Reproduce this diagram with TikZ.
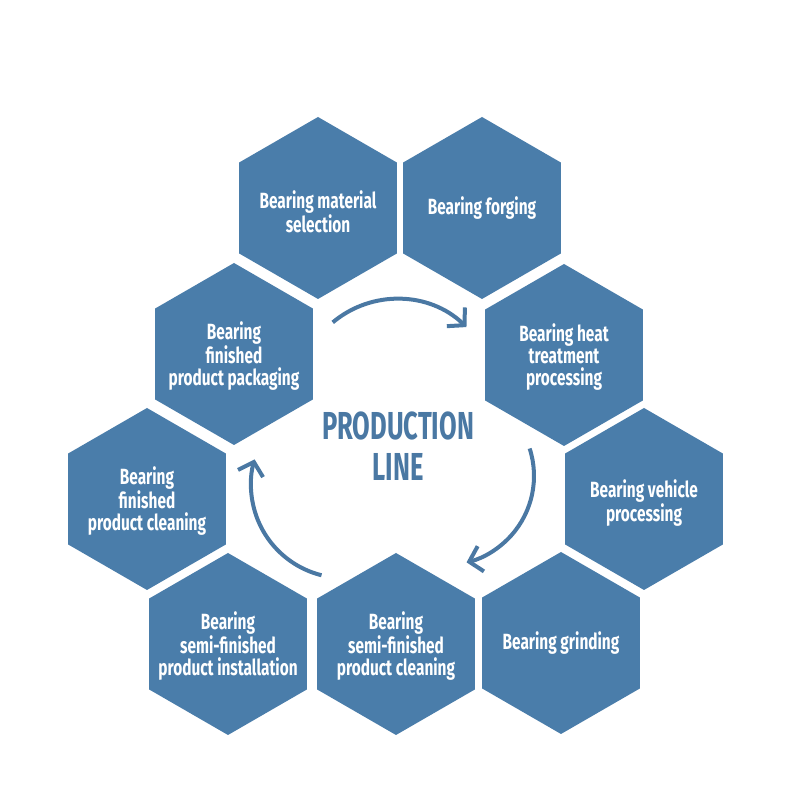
\documentclass[tikz,border=0pt]{standalone}
\usepackage{fontspec}
\setmainfont{Fira Sans}
\newfontfamily\hexfont[FakeStretch=0.70]{Fira Sans}
\newfontfamily\titlefont[FakeStretch=0.655]{Fira Sans}
\usetikzlibrary{shapes.geometric,arrows.meta}
\definecolor{hexblue}{HTML}{4A7DAA}
\definecolor{titleblue}{HTML}{4A78A3}
\begin{document}
\begin{tikzpicture}[x=1pt,y=1pt,
  hexbox/.style={regular polygon, regular polygon sides=6, shape border rotate=30,
    minimum size=182pt, inner sep=0pt, fill=hexblue},
  hextext/.style={text=white, align=center, inner sep=0pt,
    font=\hexfont\bfseries\fontsize{22}{22}\selectfont},
  titletext/.style={text=titleblue, align=center, inner sep=0pt,
    font=\titlefont\bfseries\fontsize{39}{41}\selectfont},
  flowarrow/.style={draw=titleblue, line width=4pt, -{Straight Barb[length=12pt,width=26pt]}}]
\fill[white] (0,0) rectangle (800,800);
\useasboundingbox (0,0) rectangle (800,800);
\node[hexbox] (h1) at (318,592) {};
\node[hexbox] (h2) at (482,592) {};
\node[hexbox] (h3) at (564,445) {};
\node[hexbox] (h4) at (644,301) {};
\node[hexbox] (h5) at (561,157) {};
\node[hexbox] (h6) at (396,156) {};
\node[hexbox] (h7) at (228,156) {};
\node[hexbox] (h8) at (147,301) {};
\node[hexbox] (h9) at (234,446) {};
\node[hextext] (t1) at ([yshift=-4pt]h1) {Bearing material\\selection};
\node[hextext] (t2) at (h2) {Bearing forging};
\node[hextext] (t3) at ([yshift=-2pt]h3) {Bearing heat\\treatment\\processing};
\node[hextext] (t4) at ([yshift=-4pt]h4) {Bearing vehicle\\processing};
\node[hextext] (t5) at (h5) {Bearing grinding};
\node[hextext] (t6) at ([yshift=-2pt]h6) {Bearing\\semi-finished\\product cleaning};
\node[hextext] (t7) at ([yshift=-2pt]h7) {Bearing\\semi-finished\\product installation};
\node[hextext] (t8) at ([yshift=-2pt]h8) {Bearing\\finished\\product cleaning};
\node[hextext] (t9) at ([yshift=-2pt]h9) {Bearing\\finished\\product packaging};
\node[titletext] (pl) at (398,354) {PRODUCTION\\LINE};
\coordinate (a1c) at (397,401);
\coordinate (a2c) at (445,324);
\coordinate (a3c) at (344,315);
\draw[flowarrow] ([shift={(130:100)}]a1c) arc[start angle=130, end angle=46, radius=100];
\draw[flowarrow] ([shift={(18:89)}]a2c) arc[start angle=18, end angle=-76, radius=89];
\draw[flowarrow] ([shift={(256:93)}]a3c) arc[start angle=256, end angle=164, radius=93];
\end{tikzpicture}
\end{document}
